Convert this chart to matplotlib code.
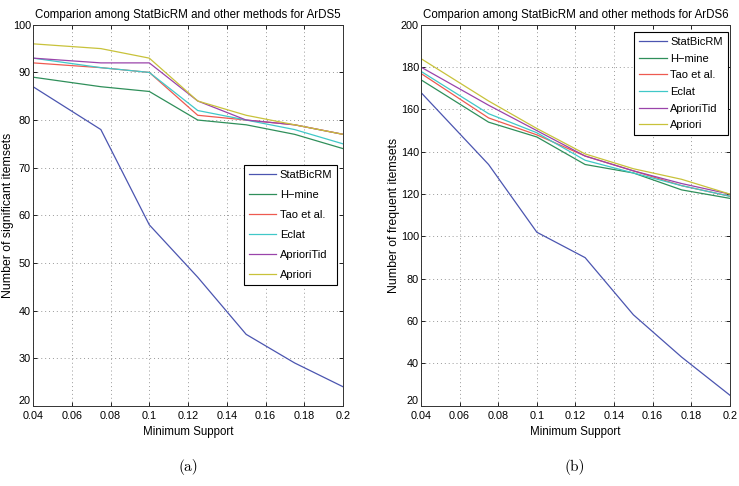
import matplotlib.pyplot as plt
import numpy as np

# minimum support values (x axis), same for both panels
support = [0.04, 0.075, 0.1, 0.125, 0.15, 0.175, 0.2]

methods = ['StatBicRM', 'H\u2212mine', 'Tao et al.', 'Eclat', 'AprioriTid', 'Apriori']
colors = ['#4b55b0', '#2f8f5a', '#ee5a50', '#40c8c8', '#9a44aa', '#c8c23a']

# (a) ArDS5 - number of significant itemsets
ards5_statbicrm = [87, 78, 58, 47, 35, 29, 24]
ards5_hmine = [89, 87, 86, 80, 79, 77, 74]
ards5_tao = [92, 91, 90, 81, 80, 79, 77]
ards5_eclat = [93, 91, 90, 82, 80, 78, 75]
ards5_aprioritid = [93, 92, 92, 84, 80, 79, 77]
ards5_apriori = [96, 95, 93, 84, 81, 79, 77]

# (b) ArDS6 - number of frequent itemsets
ards6_statbicrm = [168, 134, 102, 90, 63, 43, 25]
ards6_hmine = [174, 154, 147, 134, 130, 122, 118]
ards6_tao = [177, 156, 148, 138, 131, 124, 119]
ards6_eclat = [178, 158, 149, 136, 130, 124, 119]
ards6_aprioritid = [180, 162, 150, 138, 131, 125, 120]
ards6_apriori = [184, 164, 151, 139, 132, 127, 120]

plt.rcParams['font.family'] = ['Liberation Sans', 'DejaVu Sans']
plt.rcParams['xtick.direction'] = 'in'
plt.rcParams['ytick.direction'] = 'in'

fig = plt.figure(figsize=(7.39, 4.86), dpi=100)
ax1 = fig.add_axes([0.0447, 0.165, 0.4195, 0.784])
ax2 = fig.add_axes([0.5697, 0.165, 0.418, 0.784])


def draw_panel(ax, series, yticks, title, ylabel, ylabel_x, legend_anchor, spacing):
    for vals, name, c in zip(series, methods, colors):
        ax.plot(support, vals, color=c, linewidth=0.9, label=name)
    ax.set_xlim(0.04, 0.2)
    ax.set_ylim(yticks[0], yticks[-1])
    ax.set_xticks([0.04, 0.06, 0.08, 0.1, 0.12, 0.14, 0.16, 0.18, 0.2])
    ax.set_xticklabels(['0.04', '0.06', '0.08', '0.1', '0.12', '0.14', '0.16', '0.18', '0.2'])
    ax.set_yticks(yticks)
    ax.tick_params(labelsize=7.8, length=3, width=0.6, top=True, right=True)
    ax.tick_params(axis='x', pad=3.5)
    ax.tick_params(axis='y', pad=1.5)
    # lowest y label sits a bit higher, like the original
    ax.get_yticklabels()[0].set_verticalalignment('bottom')
    ax.grid(True, linestyle=(0, (1, 3)), color='#999999', linewidth=0.7)
    for s in ax.spines.values():
        s.set_color('#333333')
        s.set_linewidth(0.7)
    ax.set_title(title, fontsize=8.3, pad=5)
    ax.set_xlabel('Minimum Support', fontsize=8.3, labelpad=4)
    ax.set_ylabel(ylabel, fontsize=8.8)
    ax.yaxis.set_label_coords(ylabel_x, 0.5)
    leg = ax.legend(loc='upper right', bbox_to_anchor=legend_anchor, fontsize=8,
                    fancybox=False, framealpha=1, edgecolor='black', handlelength=2.5,
                    borderpad=0.45, labelspacing=spacing, handletextpad=0.3, borderaxespad=0)
    leg.get_frame().set_linewidth(0.8)


draw_panel(ax1,
           [ards5_statbicrm, ards5_hmine, ards5_tao, ards5_eclat, ards5_aprioritid, ards5_apriori],
           list(range(20, 101, 10)),
           'Comparion among StatBicRM and other methods for ArDS5',
           'Number of significant itemsets', -0.063, (0.981, 0.632), 0.9)
draw_panel(ax2,
           [ards6_statbicrm, ards6_hmine, ards6_tao, ards6_eclat, ards6_aprioritid, ards6_apriori],
           list(range(20, 201, 20)),
           'Comparion among StatBicRM and other methods for ArDS6',
           'Number of frequent itemsets', -0.068, (0.9935, 0.981), 0.6)

fig.text(188 / 739, 1 - 467 / 486, '(a)', family='cmr10', fontsize=11, ha='center', va='center')
fig.text(575 / 739, 1 - 467 / 486, '(b)', family='cmr10', fontsize=11, ha='center', va='center')

fig.savefig('out.png', dpi=100)
